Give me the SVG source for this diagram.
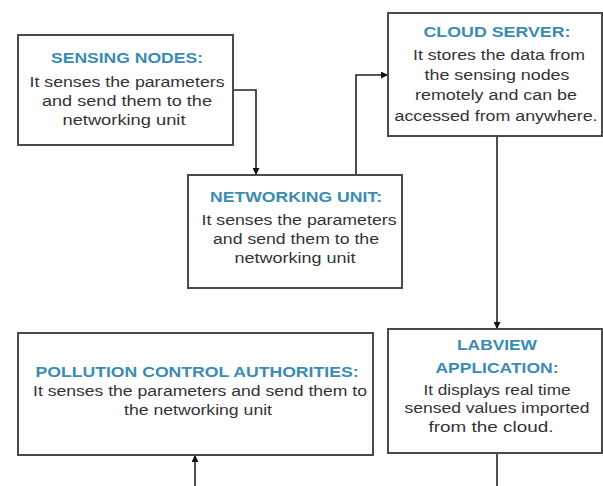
<svg xmlns="http://www.w3.org/2000/svg" width="603" height="486" viewBox="0 0 603 486">
  <style>
    .box { fill: #ffffff; stroke: #4a4a4a; stroke-width: 2; }
    .title { font-family: "Liberation Sans", Arial, sans-serif; font-size: 15.5px; font-weight: bold; fill: #3a8cb3; text-anchor: middle; }
    .body { font-family: "Liberation Sans", Arial, sans-serif; font-size: 15.5px; fill: #333333; text-anchor: middle; }
    .wire { fill: none; stroke: #222222; stroke-width: 1.6; }
  </style>
  <defs>
    <marker id="arrow" viewBox="0 0 10 10" refX="10" refY="5" markerWidth="7" markerHeight="7" markerUnits="userSpaceOnUse" orient="auto">
      <path d="M0,0 L10,5 L0,10 z" fill="#111111"/>
    </marker>
  </defs>
  <rect width="603" height="486" fill="#ffffff"/>

  <g id="connectors">
    <polyline class="wire" points="233,90 256,90 256,175" marker-end="url(#arrow)"/>
    <polyline class="wire" points="356,175 356,75 388,75" marker-end="url(#arrow)"/>
    <line class="wire" x1="497" y1="137" x2="497" y2="329" marker-end="url(#arrow)"/>
    <line class="wire" x1="497" y1="453" x2="497" y2="486"/>
    <line class="wire" x1="195" y1="486" x2="195" y2="455" marker-end="url(#arrow)"/>
  </g>

  <g id="sensing-nodes">
    <rect class="box" x="18" y="35" width="215" height="110"/>
    <text class="title" x="127" y="63" textLength="152" lengthAdjust="spacingAndGlyphs">SENSING NODES:</text>
    <text class="body" x="127" y="87" textLength="195" lengthAdjust="spacingAndGlyphs">It senses the parameters</text>
    <text class="body" x="127" y="106" textLength="170" lengthAdjust="spacingAndGlyphs">and send them to the</text>
    <text class="body" x="124" y="125" textLength="123" lengthAdjust="spacingAndGlyphs">networking unit</text>
  </g>

  <g id="networking-unit">
    <rect class="box" x="188" y="175" width="214" height="113"/>
    <text class="title" x="296" y="202" textLength="172" lengthAdjust="spacingAndGlyphs">NETWORKING UNIT:</text>
    <text class="body" x="299" y="225" textLength="195" lengthAdjust="spacingAndGlyphs">It senses the parameters</text>
    <text class="body" x="296" y="244" textLength="166" lengthAdjust="spacingAndGlyphs">and send them to the</text>
    <text class="body" x="295" y="263" textLength="121" lengthAdjust="spacingAndGlyphs">networking unit</text>
  </g>

  <g id="cloud-server">
    <rect class="box" x="388" y="13" width="214" height="123"/>
    <text class="title" x="497" y="37" textLength="147" lengthAdjust="spacingAndGlyphs">CLOUD SERVER:</text>
    <text class="body" x="499" y="60" textLength="172" lengthAdjust="spacingAndGlyphs">It stores the data from</text>
    <text class="body" x="497" y="80" textLength="145" lengthAdjust="spacingAndGlyphs">the sensing nodes</text>
    <text class="body" x="496" y="100" textLength="162" lengthAdjust="spacingAndGlyphs">remotely and can be</text>
    <text class="body" x="496" y="121" textLength="203" lengthAdjust="spacingAndGlyphs">accessed from anywhere.</text>
  </g>

  <g id="labview-application">
    <rect class="box" x="388" y="329" width="214" height="124"/>
    <text class="title" x="497" y="350" textLength="80" lengthAdjust="spacingAndGlyphs">LABVIEW</text>
    <text class="title" x="497" y="373" textLength="123" lengthAdjust="spacingAndGlyphs">APPLICATION:</text>
    <text class="body" x="497" y="395" textLength="147" lengthAdjust="spacingAndGlyphs">It displays real time</text>
    <text class="body" x="497" y="413" textLength="185" lengthAdjust="spacingAndGlyphs">sensed values imported</text>
    <text class="body" x="491" y="432" textLength="125" lengthAdjust="spacingAndGlyphs">from the cloud.</text>
  </g>

  <g id="pollution-control-authorities">
    <rect class="box" x="18" y="333" width="355" height="122"/>
    <text class="title" x="197" y="377" textLength="323" lengthAdjust="spacingAndGlyphs">POLLUTION CONTROL AUTHORITIES:</text>
    <text class="body" x="200" y="396" textLength="334" lengthAdjust="spacingAndGlyphs">It senses the parameters and send them to</text>
    <text class="body" x="198" y="415" textLength="148" lengthAdjust="spacingAndGlyphs">the networking unit</text>
  </g>
</svg>
